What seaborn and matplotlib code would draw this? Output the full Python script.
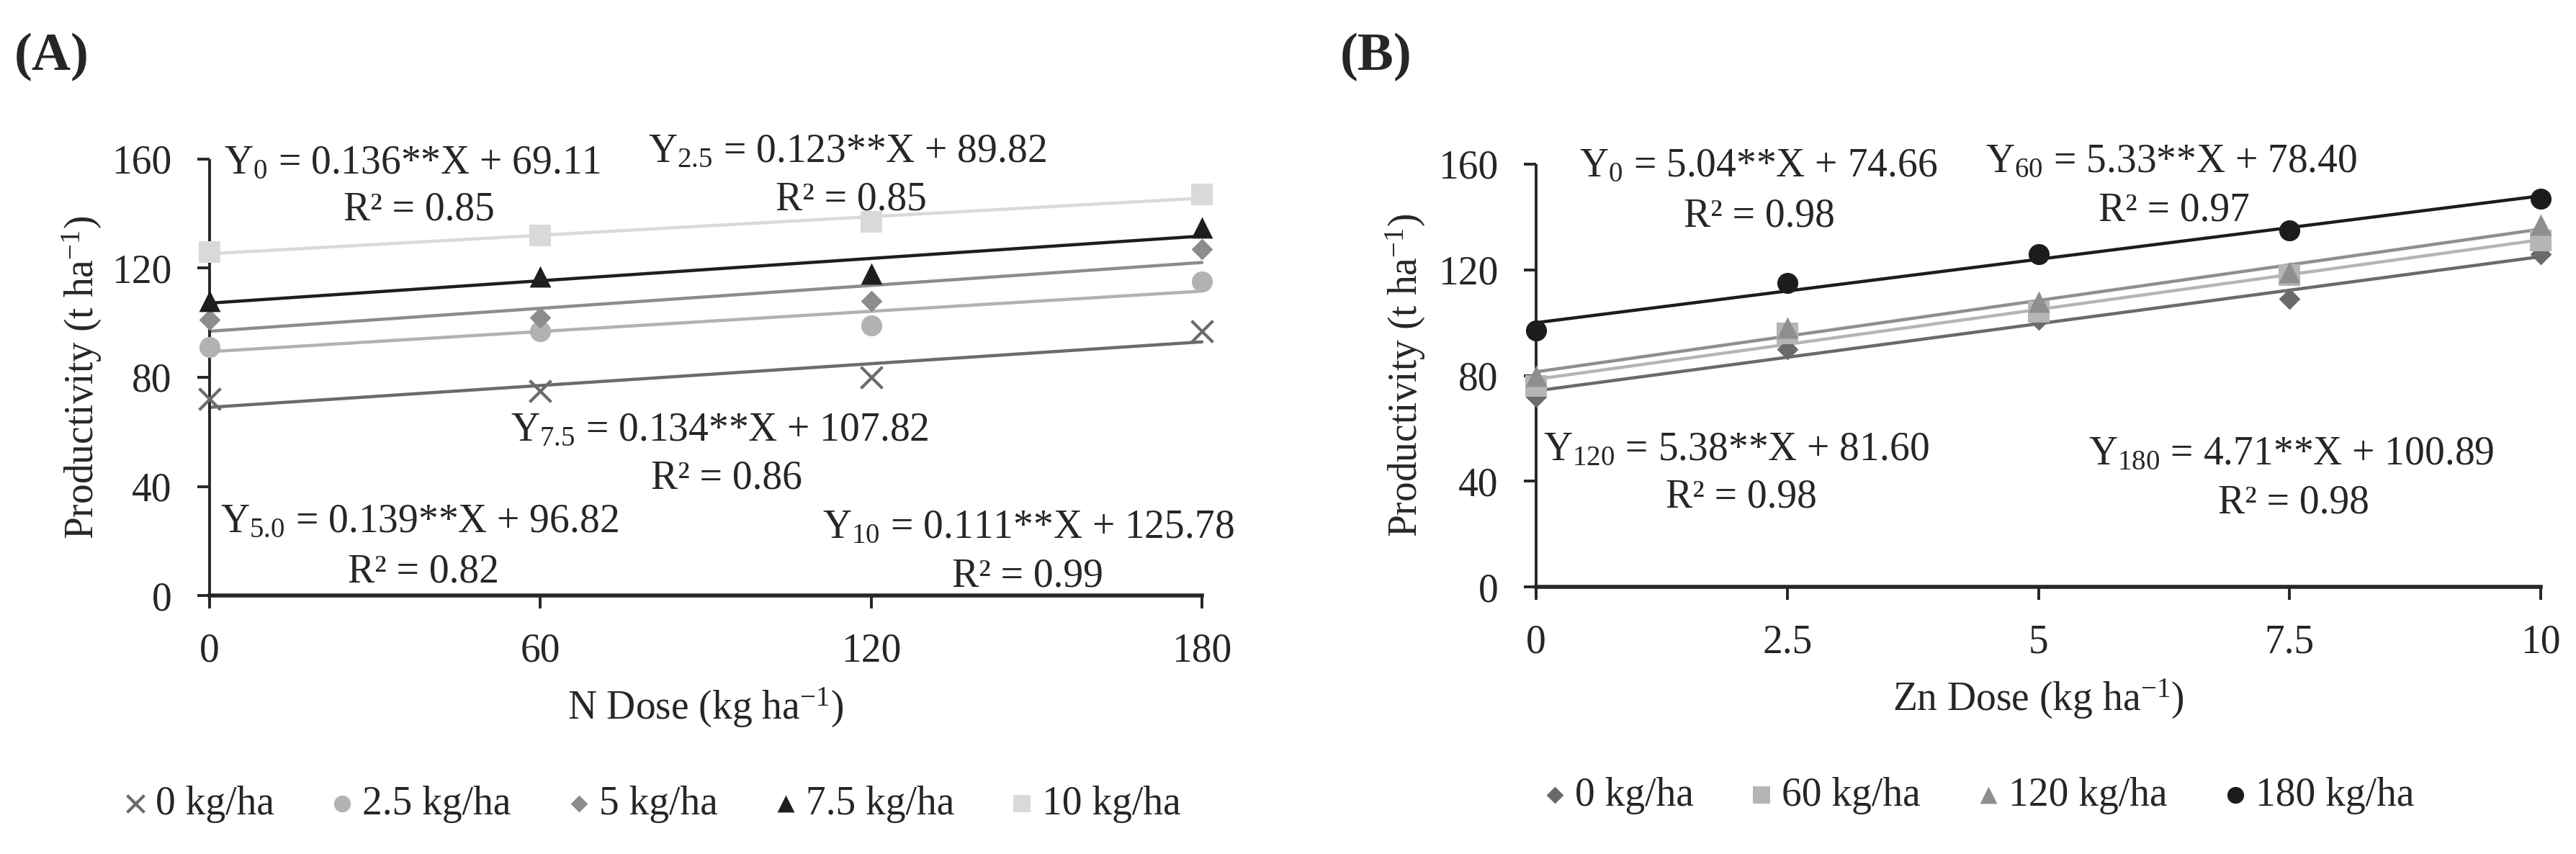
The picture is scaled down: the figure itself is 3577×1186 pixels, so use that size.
import numpy as np
import pandas as pd
import matplotlib
matplotlib.use("Agg")
import matplotlib.pyplot as plt
import seaborn as sns

# Panel A: productivity vs N dose, one series per Zn dose
n_dose = [0, 60, 120, 180]
a_labels = ["0 kg/ha", "2.5 kg/ha", "5 kg/ha", "7.5 kg/ha", "10 kg/ha"]
a_zn0 = [72, 75, 80, 97]
a_zn25 = [91, 97, 99, 115]
a_zn5 = [101, 102, 108, 127]
a_zn75 = [108, 117, 118, 135]
a_zn10 = [126, 132, 137, 147]

# Panel B: productivity vs Zn dose, one series per N dose
zn_dose = [0, 2.5, 5, 7.5, 10]
b_labels = ["0 kg/ha", "60 kg/ha", "120 kg/ha", "180 kg/ha"]
b_n0 = [72, 90, 101, 109, 126]
b_n60 = [76, 96, 104, 118, 131]
b_n120 = [80, 98, 108, 119, 137]
b_n180 = [97, 115, 126, 135, 147]

# regression equations printed on the chart
a_eqs = [r"Y$_{0}$ = 0.136**X + 69.11", "R\u00b2 = 0.85",
         r"Y$_{2.5}$ = 0.123**X + 89.82", "R\u00b2 = 0.85",
         r"Y$_{7.5}$ = 0.134**X + 107.82", "R\u00b2 = 0.86",
         r"Y$_{5.0}$ = 0.139**X + 96.82", "R\u00b2 = 0.82",
         r"Y$_{10}$ = 0.111**X + 125.78", "R\u00b2 = 0.99"]
b_eqs = [r"Y$_{0}$ = 5.04**X + 74.66", "R\u00b2 = 0.98",
         r"Y$_{60}$ = 5.33**X + 78.40", "R\u00b2 = 0.97",
         r"Y$_{120}$ = 5.38**X + 81.60", "R\u00b2 = 0.98",
         r"Y$_{180}$ = 4.71**X + 100.89", "R\u00b2 = 0.98"]

sns.set_style("ticks")
plt.rcParams["font.family"] = ["Liberation Serif", "DejaVu Serif"]
plt.rcParams["mathtext.fontset"] = "custom"
plt.rcParams["mathtext.rm"] = "Liberation Serif"
plt.rcParams["mathtext.it"] = "Liberation Serif:italic"
plt.rcParams["mathtext.default"] = "regular"

FS = 40
W, H = 3577, 1186
fig = plt.figure(figsize=(W / 100, H / 100), dpi=100)


def px_axes(left, right, top, bottom):
    return fig.add_axes([left / W, (H - bottom) / H, (right - left) / W, (bottom - top) / H])


axA = px_axes(291, 1669, 221, 827)
axB = px_axes(2133, 3528, 228, 815)


def draw_series(ax, x, y, label, marker, color, size, lw_marker=0):
    sns.regplot(x=x, y=y, ax=ax, scatter=False, ci=None, color=color,
                line_kws={"lw": 3.2, "zorder": 2, "clip_on": False})
    sns.scatterplot(x=x, y=y, ax=ax, marker=marker, color=color, s=size,
                    linewidth=lw_marker, edgecolor=color if marker != "x" else None,
                    label=label, zorder=3, clip_on=False)


a_series = [
    (a_zn0, "x", "#6b6b6b", 460, 3.0),
    (a_zn25, "o", "#b2b2b2", 440, 0),
    (a_zn5, "D", "#8c8c8c", 230, 0),
    (a_zn75, "^", "#1e1e1e", 460, 0),
    (a_zn10, "s", "#d9d9d9", 440, 0),
]
for (vals, mk, col, sz, lw), lab in zip(a_series, a_labels):
    draw_series(axA, n_dose, vals, lab, mk, col, sz, lw)

b_series = [
    (b_n0, "D", "#6a6a6a", 230, 0),
    (b_n60, "s", "#b5b5b5", 440, 0),
    (b_n120, "^", "#8f8f8f", 460, 0),
    (b_n180, "o", "#1c1c1c", 440, 0),
]
for (vals, mk, col, sz, lw), lab in zip(b_series, b_labels):
    draw_series(axB, zn_dose, vals, lab, mk, col, sz, lw)

for ax, xt, xlab in [(axA, n_dose, "N Dose (kg ha$^{-1}$)"),
                     (axB, zn_dose, "Zn Dose (kg ha$^{-1}$)")]:
    ax.set_xlim(xt[0], xt[-1])
    ax.set_ylim(0, 160)
    ax.set_xticks(xt)
    ax.set_xticklabels([f"{v:g}" for v in xt])
    ax.set_yticks([0, 40, 80, 120, 160])
    sns.despine(ax=ax)
    ax.spines["left"].set_linewidth(2.8)
    ax.spines["bottom"].set_linewidth(4.0)
    ax.spines["left"].set_capstyle("butt")
    ax.tick_params(axis="y", direction="out", length=12, width=2.8, pad=26, labelsize=FS)
    ax.tick_params(axis="x", direction="out", length=13, width=2.8, pad=24, labelsize=FS)
    ax.set_xlabel(xlab, fontsize=FS, va="center")
    ax.set_ylabel("Productivity (t ha$^{-1}$)", fontsize=FS, va="center")
    ax.get_legend().remove()

axA.xaxis.set_label_coords(0.5, -0.257)
axB.xaxis.set_label_coords(0.5, -0.266)
axA.yaxis.set_label_coords(-0.1284, 0.5)
axB.yaxis.set_label_coords(-0.1297, 0.5)

# equation annotations (x, y in data units, alignment)
a_pos = [(2.6, 154.7, "left"), (38.0, 137.6, "center"),
         (79.5, 158.9, "left"), (116.4, 141.5, "center"),
         (54.6, 56.8, "left"), (93.8, 39.3, "center"),
         (2.0, 23.2, "left"), (38.8, 5.0, "center"),
         (111.2, 21.1, "left"), (148.4, 3.4, "center")]
b_pos = [(0.43, 155.4, "left"), (2.22, 136.5, "center"),
         (4.47, 157.0, "left"), (6.35, 138.7, "center"),
         (0.07, 48.0, "left"), (2.04, 30.0, "center"),
         (5.50, 46.3, "left"), (7.54, 28.0, "center")]
for ax, eqs, pos in [(axA, a_eqs, a_pos), (axB, b_eqs, b_pos)]:
    for txt, (x, y, ha) in zip(eqs, pos):
        ax.text(x, y, txt, fontsize=FS, ha=ha, va="baseline", zorder=5)

# legends below each panel
hA, lA = axA.get_legend_handles_labels()
hB, lB = axB.get_legend_handles_labels()
fig.legend(hA, lA, loc="center", bbox_to_anchor=(900 / W, 1 - 1117 / H), ncol=5,
           frameon=False, fontsize=FS, markerscale=0.8, handletextpad=0.0,
           columnspacing=1.2, handlelength=1.0)
fig.legend(hB, lB, loc="center", bbox_to_anchor=(2742 / W, 1 - 1105 / H), ncol=4,
           frameon=False, fontsize=FS, markerscale=0.8, handletextpad=0.0,
           columnspacing=1.2, handlelength=1.0)

fig.text(72 / W, 1 - 79 / H, "(A)", fontsize=54, fontweight="bold", ha="center", va="center")
fig.text(1911 / W, 1 - 79 / H, "(B)", fontsize=54, fontweight="bold", ha="center", va="center")

fig.savefig("out.png", dpi=100, facecolor="white")
